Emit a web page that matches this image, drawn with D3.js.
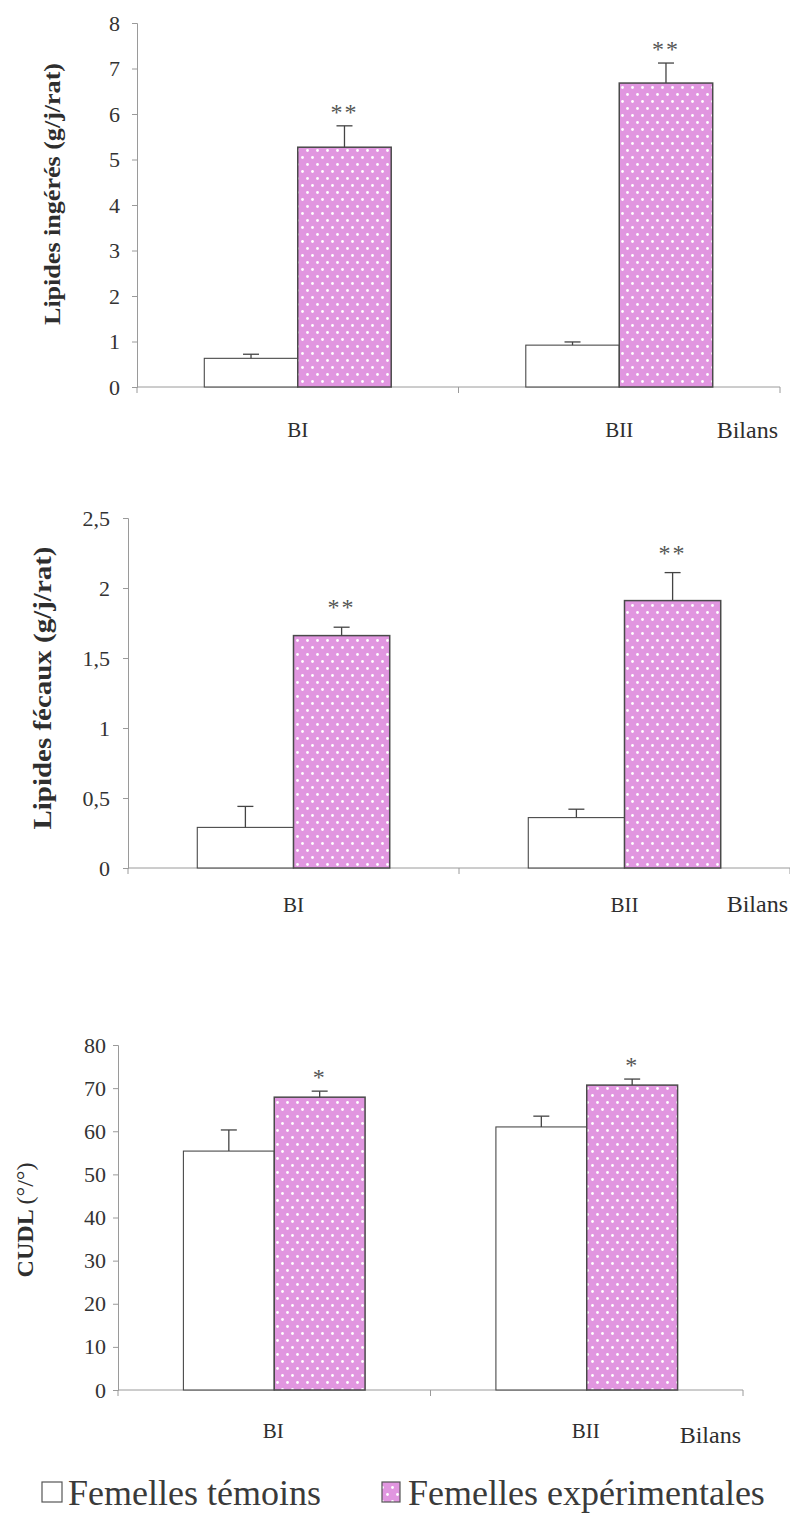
<!DOCTYPE html>
<html>
<head>
<meta charset="utf-8">
<script src="https://cdn.jsdelivr.net/npm/d3@7"></script>
<style>
  html, body { margin: 0; padding: 0; background: #fff; }
  svg { display: block; }
  svg text { font-family: "Liberation Serif", "Times New Roman", Times, serif !important; fill: #2e2e2e; }
</style>
</head>
<body>
<svg id="chart" width="790" height="1513"></svg>
<script>
// Balance periods and the two groups of females
const bilans = ["BI", "BII"];
const groupes = ["Femelles témoins", "Femelles expérimentales"];

// Lipides ingérés (g/j/rat)
const ingeresTemoins = [0.63, 0.92];
const ingeresTemoinsSE = [0.09, 0.07];
const ingeresExp = [5.27, 6.68];
const ingeresExpSE = [0.47, 0.44];
const ingeresSig = ["**", "**"];
const ingeresTicks = [0, 1, 2, 3, 4, 5, 6, 7, 8];

// Lipides fécaux (g/j/rat)
const fecauxTemoins = [0.29, 0.36];
const fecauxTemoinsSE = [0.15, 0.06];
const fecauxExp = [1.66, 1.91];
const fecauxExpSE = [0.06, 0.20];
const fecauxSig = ["**", "**"];
const fecauxTicks = [0, 0.5, 1, 1.5, 2, 2.5];

// CUDL (%)
const cudlTemoins = [55.4, 61.0];
const cudlTemoinsSE = [4.9, 2.5];
const cudlExp = [67.9, 70.7];
const cudlExpSE = [1.4, 1.4];
const cudlSig = ["*", "*"];
const cudlTicks = [0, 10, 20, 30, 40, 50, 60, 70, 80];

const svg = d3.select("#chart");
const defs = svg.append("defs");

// pink fill with a staggered grid of white dots
const pat = defs.append("pattern")
  .attr("id", "dots").attr("patternUnits", "userSpaceOnUse")
  .attr("width", 10).attr("height", 14);
pat.append("rect").attr("width", 10).attr("height", 14).attr("fill", "#e196e0");
pat.append("circle").attr("cx", 2.5).attr("cy", 3.5).attr("r", 1.4).attr("fill", "#ffffff");
pat.append("circle").attr("cx", 7.5).attr("cy", 10.5).attr("r", 1.4).attr("fill", "#ffffff");

const fills = ["#ffffff", "url(#dots)"];
const comma = d => String(d).replace(".", ",");

function drawPanel(p) {
  const g = svg.append("g");
  const y = d3.scaleLinear().domain([0, p.ticks[p.ticks.length - 1]]).range([p.y0, p.yTop]);
  const x = d3.scaleBand().domain(bilans).range([p.x0, p.x1]).paddingInner(0).paddingOuter(0);
  const xs = d3.scaleBand().domain(groupes).range([0, x.bandwidth()]).paddingInner(0).paddingOuter(0.72);

  // y axis
  const yAxis = d3.axisLeft(y).tickValues(p.ticks).tickSize(5).tickPadding(p.tickPad)
    .tickFormat(p.fmt || (d => d));
  const ya = g.append("g").attr("transform", `translate(${p.x0},0)`).call(yAxis)
    .attr("font-size", 22).attr("font-family", null);
  ya.select(".domain").attr("stroke", "#9a9a9a");
  ya.selectAll(".tick line").attr("stroke", "#9a9a9a");
  ya.selectAll(".tick text").style("font-size", "22px").style("fill", "#333");

  // x axis with ticks at the band edges
  const edges = [p.x0, ...bilans.slice(1).map(b => x(b)), p.x1];
  g.append("line").attr("x1", p.x0).attr("x2", p.x1).attr("y1", p.y0).attr("y2", p.y0)
    .attr("stroke", "#9a9a9a");
  g.selectAll(".xt").data(edges).join("line")
    .attr("x1", d => d).attr("x2", d => d).attr("y1", p.y0).attr("y2", p.y0 + 6)
    .attr("stroke", "#9a9a9a");

  // bars
  const rows = [];
  bilans.forEach((b, i) => {
    rows.push({ b, grp: groupes[0], v: p.tem[i], se: p.temSE[i], k: 0 });
    rows.push({ b, grp: groupes[1], v: p.exp[i], se: p.expSE[i], k: 1, sig: p.sig[i] });
  });
  const bx = d => x(d.b) + xs(d.grp);
  g.selectAll(".bar").data(rows).join("rect")
    .attr("x", bx).attr("width", xs.bandwidth())
    .attr("y", d => y(d.v)).attr("height", d => y(0) - y(d.v))
    .attr("fill", d => fills[d.k])
    .attr("stroke", "#4a4a4a").attr("stroke-width", d => d.k ? 1.5 : 1.1);

  // error bars (upper half only)
  const cx = d => bx(d) + xs.bandwidth() / 2;
  g.selectAll(".eb").data(rows).join("line")
    .attr("x1", cx).attr("x2", cx).attr("y1", d => y(d.v)).attr("y2", d => y(d.v + d.se))
    .attr("stroke", "#444").attr("stroke-width", 1.3);
  g.selectAll(".cap").data(rows).join("line")
    .attr("x1", d => cx(d) - 8).attr("x2", d => cx(d) + 8)
    .attr("y1", d => y(d.v + d.se)).attr("y2", d => y(d.v + d.se))
    .attr("stroke", "#444").attr("stroke-width", 1.3);

  // significance marks
  g.selectAll(".sig").data(rows.filter(d => d.sig)).join("text")
    .attr("x", cx).attr("y", d => y(d.v + d.se) - p.sigGap)
    .attr("text-anchor", "middle").attr("font-size", 24).style("fill", "#555")
    .attr("letter-spacing", 2)
    .text(d => d.sig);

  // category labels
  g.selectAll(".cat").data(bilans).join("text")
    .attr("x", d => x(d) + x.bandwidth() / 2 + (p.catShift || 0))
    .attr("y", p.catY).attr("text-anchor", "middle").attr("font-size", 21)
    .text(d => d);
  g.append("text").attr("x", p.x1 - 2).attr("y", p.bilansY)
    .attr("text-anchor", "end").attr("font-size", 24).text("Bilans");

  // y title
  const t = g.append("text")
    .attr("transform", `translate(${p.titleX},${p.titleY}) rotate(-90)`)
    .attr("text-anchor", "middle").attr("dominant-baseline", "central")
    .attr("font-size", p.titleSize).attr("font-weight", "bold");
  if (p.titleLen) t.attr("textLength", p.titleLen).attr("lengthAdjust", "spacingAndGlyphs");
  if (p.titleParts) {
    t.append("tspan").text(p.titleParts[0]);
    t.append("tspan").attr("font-weight", "normal").text(p.titleParts[1]);
  } else {
    t.text(p.title);
  }
}

drawPanel({
  x0: 137, x1: 780, y0: 387, yTop: 23, ticks: ingeresTicks, tickPad: 12,
  tem: ingeresTemoins, temSE: ingeresTemoinsSE, exp: ingeresExp, expSE: ingeresExpSE, sig: ingeresSig,
  sigGap: 6, catY: 437, bilansY: 438,
  title: "Lipides ingérés (g/j/rat)", titleX: 52, titleY: 194, titleSize: 23, titleLen: 262
});

drawPanel({
  x0: 128, x1: 790, y0: 868, yTop: 518, ticks: fecauxTicks, tickPad: 13, fmt: comma,
  tem: fecauxTemoins, temSE: fecauxTemoinsSE, exp: fecauxExp, expSE: fecauxExpSE, sig: fecauxSig,
  sigGap: 12, catY: 912, bilansY: 912,
  title: "Lipides fécaux (g/j/rat)", titleX: 42, titleY: 688, titleSize: 26, titleLen: 283
});

drawPanel({
  x0: 118, x1: 743, y0: 1390, yTop: 1045, ticks: cudlTicks, tickPad: 7,
  tem: cudlTemoins, temSE: cudlTemoinsSE, exp: cudlExp, expSE: cudlExpSE, sig: cudlSig,
  sigGap: 6, catY: 1438, bilansY: 1443, catShift: -1,
  titleParts: ["CUDL ", "(°/°)"], titleX: 25, titleY: 1220, titleSize: 24, titleLen: 115
});

// legend
const leg = svg.append("g");
const legItems = [
  { label: groupes[0], bx: 42, bw: 20, tx: 68, fill: fills[0] },
  { label: groupes[1], bx: 382, bw: 18, tx: 408, fill: fills[1] }
];
leg.selectAll("rect").data(legItems).join("rect")
  .attr("x", d => d.bx).attr("y", 1482).attr("width", d => d.bw).attr("height", 20)
  .attr("fill", d => d.fill).attr("stroke", "#555").attr("stroke-width", 1.2);
leg.selectAll("text").data(legItems).join("text")
  .attr("x", d => d.tx).attr("y", 1505).attr("font-size", 36).style("fill", "#3a3a3a")
  .text(d => d.label);
</script>
</body>
</html>
